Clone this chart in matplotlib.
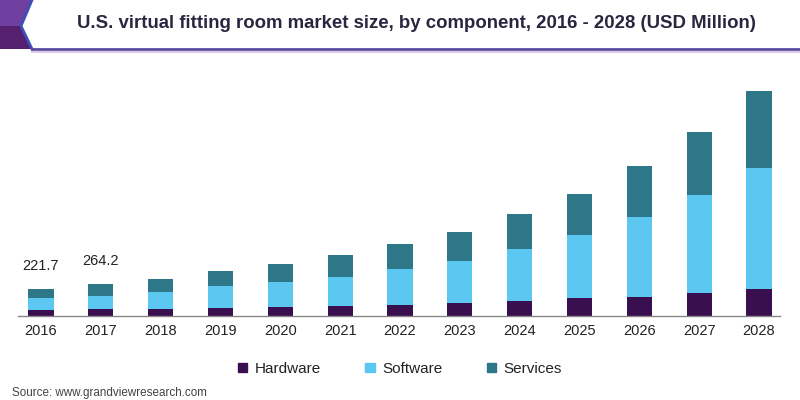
import numpy as np
import matplotlib.pyplot as plt
from matplotlib.patches import Polygon, Patch

years = ['2016', '2017', '2018', '2019', '2020', '2021', '2022',
         '2023', '2024', '2025', '2026', '2027', '2028']
hardware = [51, 58, 58, 67, 75, 86, 89, 109, 125, 148, 161, 195, 225]
software = [101, 112, 144, 184, 209, 242, 303, 351, 432, 529, 662, 812, 1008]
services = [69.7, 94.2, 111, 122, 153, 181, 206, 245, 298, 345, 428, 526, 643]
labels_shown = {0: '221.7', 1: '264.2'}

c_hw = '#3a0f50'
c_sw = '#5cc8f2'
c_sv = '#2e7788'

plt.rcParams['font.family'] = ['Liberation Sans', 'DejaVu Sans']

W, H = 800, 400
fig = plt.figure(figsize=(8, 4), dpi=100)

# background layer in pixel coords for the header decoration
bg = fig.add_axes([0, 0, 1, 1], zorder=0)
bg.set_xlim(0, W)
bg.set_ylim(H, 0)
bg.axis('off')
bg.add_patch(Polygon([(0, 0), (32, 0), (21, 26), (32, 49), (0, 49)],
                     closed=True, facecolor='#7040a0', edgecolor='none'))
bg.add_patch(Polygon([(0, 26), (21, 26), (32, 49), (0, 49)],
                     closed=True, facecolor='#55206f', edgecolor='none'))
bg.plot([32, 21, 32], [0, 26, 49], color='#3d4fb8', lw=2)
bg.plot([32, W], [49, 49], color='#5a4a9e', lw=2)
bg.plot([32, W], [51.5, 51.5], color='#dccbea', lw=1.5)
bg.text(416, 23, 'U.S. virtual fitting room market size, by component, 2016 - 2028 (USD Million)',
        ha='center', va='center', fontsize=13.4, fontweight='bold', color='#2b2540')
bg.text(12, 393, 'Source: www.grandviewresearch.com', ha='left', va='center',
        fontsize=8.4, color='#444444')

# main chart
ax = fig.add_axes([18 / W, 1 - 316 / H, (780 - 18) / W, (316 - 70) / H], zorder=1)
ax.patch.set_alpha(0)
x = np.arange(len(years))
hw = np.array(hardware)
sw = np.array(software)
sv = np.array(services)
bw = 0.42
ax.bar(x, hw, bw, color=c_hw, label='Hardware')
ax.bar(x, sw, bw, bottom=hw, color=c_sw, label='Software')
ax.bar(x, sv, bw, bottom=hw + sw, color=c_sv, label='Services')

totals = hw + sw + sv
for i, txt in labels_shown.items():
    ax.annotate(txt, (x[i], totals[i]), xytext=(0, 12), textcoords='offset points',
                ha='center', va='bottom', fontsize=10.5, color='#222222')

ax.set_xlim(-0.384, 12.351)
ax.set_ylim(0, 2054)
ax.set_xticks(x)
ax.set_xticklabels(years, fontsize=10.5, color='#222222')
ax.set_yticks([])
for s in ['top', 'right', 'left']:
    ax.spines[s].set_visible(False)
ax.spines['bottom'].set_color('#888888')
ax.spines['bottom'].set_linewidth(1)
ax.tick_params(axis='x', length=0, pad=6)

handles = [Patch(color=c_hw), Patch(color=c_sw), Patch(color=c_sv)]
fig.legend(handles, ['Hardware', 'Software', 'Services'], loc='center',
           bbox_to_anchor=(0.5, 1 - 369 / H), ncol=3, frameon=False,
           fontsize=11, handlelength=0.6, handleheight=0.6, handletextpad=0.5,
           columnspacing=2.9, labelcolor='#222222')

fig.savefig('out.png', dpi=100)
